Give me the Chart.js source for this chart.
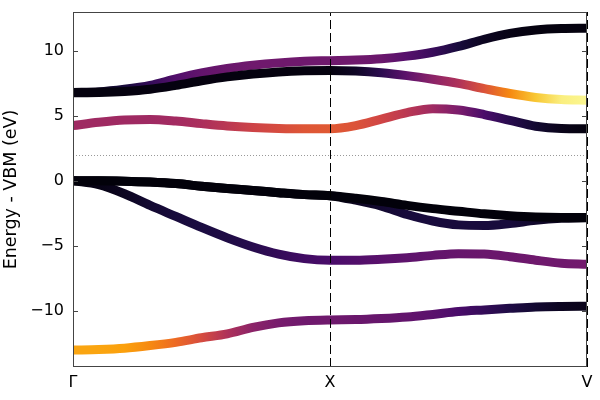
<!DOCTYPE html>
<html>
<head>
<meta charset="utf-8">
<script src="https://cdn.jsdelivr.net/npm/chart.js@4"></script>
<style>
  html, body { margin: 0; padding: 0; background: #fff; }
  canvas { display: block; }
</style>
</head>
<body>
<canvas id="bands" width="600" height="400"></canvas>
<script>
// k-path positions (Γ = 0, X = 1, V = 2)
const kPoints = [0, 0.1, 0.2, 0.3, 0.4, 0.5, 0.6, 0.7, 0.8, 0.9, 1.0,
                 1.1, 1.2, 1.3, 1.4, 1.5, 1.6, 1.7, 1.8, 1.9, 2.0];
const kTicks = [0, 1, 2];
const kLabels = ['Γ', 'X', 'V'];
const yTicks = [-10, -5, 0, 5, 10];
const gapLine = 2;

// band energies (eV, relative to VBM) and projection weights (colour)
const band1 = [-13.05, -13.0, -12.9, -12.7, -12.45, -12.1, -11.8, -11.3, -10.95, -10.78, -10.72,
               -10.7, -10.62, -10.5, -10.3, -10.08, -9.95, -9.83, -9.72, -9.68, -9.67];
const proj1 = [0.8, 0.8, 0.79, 0.74, 0.67, 0.58, 0.47, 0.38, 0.33, 0.31, 0.31,
               0.3, 0.29, 0.28, 0.26, 0.22, 0.17, 0.12, 0.08, 0.05, 0.04];

const band2 = [0, -0.3, -1.0, -1.9, -2.75, -3.6, -4.4, -5.1, -5.65, -6.0, -6.12,
               -6.12, -6.05, -5.93, -5.75, -5.62, -5.65, -5.85, -6.12, -6.35, -6.43];
const proj2 = [0.02, 0.03, 0.05, 0.08, 0.1, 0.11, 0.12, 0.14, 0.17, 0.2, 0.22,
               0.24, 0.26, 0.27, 0.28, 0.29, 0.3, 0.3, 0.31, 0.31, 0.32];

const band3 = [0, 0, -0.03, -0.1, -0.22, -0.42, -0.6, -0.75, -0.92, -1.07, -1.15,
               -1.35, -1.6, -1.9, -2.15, -2.35, -2.55, -2.7, -2.8, -2.83, -2.83];
const proj3 = [0.01, 0.01, 0.01, 0.01, 0.01, 0.01, 0.01, 0.01, 0.01, 0.01, 0.01,
               0.01, 0.01, 0.01, 0.01, 0.01, 0.01, 0.01, 0.01, 0.01, 0.01];

const band4 = [0, 0, -0.03, -0.1, -0.22, -0.42, -0.6, -0.75, -0.92, -1.07, -1.15,
               -1.5, -1.95, -2.6, -3.1, -3.4, -3.45, -3.3, -3.05, -2.9, -2.85];
const proj4 = [0.02, 0.02, 0.02, 0.02, 0.02, 0.02, 0.02, 0.02, 0.02, 0.02, 0.02,
               0.05, 0.08, 0.1, 0.1, 0.1, 0.1, 0.1, 0.07, 0.04, 0.02];

const band5 = [4.25, 4.5, 4.68, 4.72, 4.6, 4.4, 4.22, 4.1, 4.03, 4.0, 4.0,
               4.25, 4.75, 5.25, 5.55, 5.45, 5.1, 4.65, 4.2, 4.02, 4.0];
const proj5 = [0.43, 0.43, 0.43, 0.43, 0.44, 0.46, 0.5, 0.55, 0.58, 0.61, 0.62,
               0.6, 0.56, 0.5, 0.43, 0.34, 0.22, 0.14, 0.08, 0.04, 0.02];

const band6 = [6.78, 6.8, 6.88, 7.05, 7.35, 7.7, 8.0, 8.22, 8.38, 8.47, 8.5,
               8.45, 8.32, 8.1, 7.82, 7.5, 7.1, 6.72, 6.42, 6.25, 6.2];
const proj6 = [0.02, 0.02, 0.02, 0.02, 0.02, 0.02, 0.02, 0.02, 0.02, 0.02, 0.02,
               0.06, 0.15, 0.27, 0.38, 0.47, 0.6, 0.74, 0.87, 0.96, 0.98];

const band7 = [6.8, 6.85, 7.05, 7.35, 7.85, 8.3, 8.65, 8.9, 9.08, 9.2, 9.25,
               9.3, 9.4, 9.6, 9.9, 10.35, 10.9, 11.35, 11.62, 11.73, 11.75];
const proj7 = [0.02, 0.05, 0.1, 0.17, 0.24, 0.28, 0.3, 0.31, 0.31, 0.31, 0.31,
               0.31, 0.3, 0.25, 0.18, 0.1, 0.05, 0.03, 0.02, 0.02, 0.02];

// inferno colormap, 10 evenly spaced stops
const infernoStops = ['#000004', '#1b0c42', '#4b0c6b', '#781c6d', '#a52c60',
                      '#cf4446', '#ed6925', '#fb9a06', '#f7d03c', '#fcffa4'];

function hexToRgb(h) {
  return [parseInt(h.slice(1, 3), 16), parseInt(h.slice(3, 5), 16), parseInt(h.slice(5, 7), 16)];
}

function inferno(t) {
  t = Math.min(1, Math.max(0, t));
  const pos = t * (infernoStops.length - 1);
  const i = Math.min(Math.floor(pos), infernoStops.length - 2);
  const f = pos - i;
  const a = hexToRgb(infernoStops[i]);
  const b = hexToRgb(infernoStops[i + 1]);
  const c = a.map((v, j) => Math.round(v + (b[j] - v) * f));
  return `rgb(${c[0]},${c[1]},${c[2]})`;
}

// colour varies with k only, so a horizontal gradient follows the band
function bandGradient(chart, weights) {
  const xs = chart.scales.x;
  if (!xs || !chart.chartArea) return '#000';
  const k0 = kPoints[0];
  const k1 = kPoints[kPoints.length - 1];
  const g = chart.ctx.createLinearGradient(xs.getPixelForValue(k0), 0, xs.getPixelForValue(k1), 0);
  weights.forEach((w, i) => g.addColorStop((kPoints[i] - k0) / (k1 - k0), inferno(w)));
  return g;
}

function bandDataset(energies, weights) {
  return {
    data: kPoints.map((k, i) => ({ x: k, y: energies[i] })),
    borderColor: ctx => bandGradient(ctx.chart, weights),
    borderWidth: 9,
    pointRadius: 0,
    cubicInterpolationMode: 'monotone',
    fill: false
  };
}

const minusSign = v => (v < 0 ? '\u2212' + Math.abs(v) : String(v));

const framePlugin = {
  id: 'frame',
  beforeDatasetsDraw(chart) {
    const { ctx, chartArea: a, scales: { y } } = chart;
    const py = Math.round(y.getPixelForValue(gapLine)) + 0.5;
    ctx.save();
    ctx.strokeStyle = '#999';
    ctx.lineWidth = 1;
    ctx.setLineDash([1, 2]);
    ctx.beginPath();
    ctx.moveTo(a.left, py);
    ctx.lineTo(a.right, py);
    ctx.stroke();
    ctx.restore();
  },
  afterDatasetsDraw(chart) {
    const { ctx, chartArea: a, scales: { x, y } } = chart;
    ctx.save();
    ctx.lineWidth = 1;

    // high-symmetry points
    ctx.strokeStyle = '#000';
    ctx.setLineDash([9, 4]);
    kTicks.forEach(k => {
      const px = Math.round(x.getPixelForValue(k)) + 0.5;
      ctx.beginPath();
      ctx.moveTo(px, a.bottom);
      ctx.lineTo(px, a.top);
      ctx.stroke();
    });
    ctx.setLineDash([]);

    // box and inward ticks
    ctx.strokeStyle = '#444';
    ctx.strokeRect(Math.round(a.left) + 0.5, Math.round(a.top) + 0.5,
                   Math.round(a.width) - 1, Math.round(a.height) - 1);
    yTicks.forEach(v => {
      const py = Math.round(y.getPixelForValue(v)) + 0.5;
      ctx.beginPath();
      ctx.moveTo(a.left, py);
      ctx.lineTo(a.left + 5, py);
      ctx.moveTo(a.right - 5, py);
      ctx.lineTo(a.right, py);
      ctx.stroke();
    });
    ctx.restore();
  }
};

const font = { family: 'DejaVu Sans', size: 16 };

new Chart(document.getElementById('bands'), {
  type: 'line',
  data: {
    // first dataset is painted last (on top)
    datasets: [
      bandDataset(band3, proj3),
      bandDataset(band4, proj4),
      bandDataset(band2, proj2),
      bandDataset(band6, proj6),
      bandDataset(band7, proj7),
      bandDataset(band5, proj5),
      bandDataset(band1, proj1)
    ]
  },
  options: {
    responsive: false,
    animation: false,
    devicePixelRatio: 1,
    layout: { padding: { top: 12, right: 13, left: 0, bottom: 0 } },
    plugins: { legend: { display: false }, tooltip: { enabled: false } },
    scales: {
      x: {
        type: 'linear',
        min: 0,
        max: 2,
        grid: { display: false, drawTicks: false },
        border: { display: false },
        afterBuildTicks: s => { s.ticks = kTicks.map(v => ({ value: v })); },
        afterFit: s => { s.height = 33; s.paddingLeft = 0; s.paddingRight = 0; },
        ticks: {
          color: '#000',
          font,
          padding: 6,
          maxRotation: 0,
          callback: v => kLabels[kTicks.indexOf(v)]
        }
      },
      y: {
        min: -14.35,
        max: 13,
        grid: { display: false, drawTicks: false },
        border: { display: false },
        afterBuildTicks: s => { s.ticks = yTicks.map(v => ({ value: v })); },
        afterFit: s => { s.width = 73; s.paddingTop = 0; s.paddingBottom = 0; },
        ticks: { color: '#000', font, padding: 9, callback: minusSign },
        title: {
          display: true,
          text: 'Energy - VBM (eV)',
          color: '#000',
          font: { family: 'DejaVu Sans', size: 17.5 },
          padding: { top: 1, bottom: 0 }
        }
      }
    }
  },
  plugins: [framePlugin]
});
</script>
</body>
</html>
